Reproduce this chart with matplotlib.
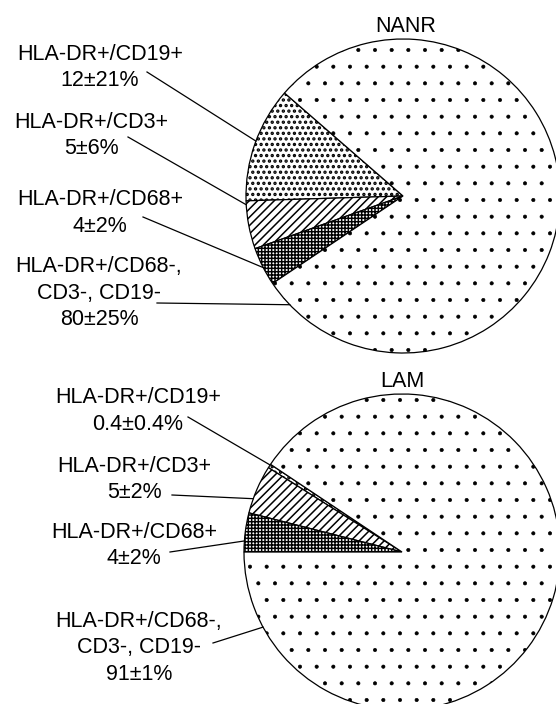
import matplotlib
matplotlib.use('Agg')
import matplotlib.pyplot as plt
import numpy as np
from matplotlib import font_manager

# Datos de los dos paneles (porcentaje de celulas HLA-DR+)
categorias = ['HLA-DR+/CD19+', 'HLA-DR+/CD3+', 'HLA-DR+/CD68+', 'HLA-DR+/CD68-,\nCD3-, CD19-']
nanr_valores = [12, 5, 4, 80]
nanr_textos = ['12±21%', '5±6%', '4±2%', '80±25%']
lam_valores = [0.4, 5, 4, 91]
lam_textos = ['0.4±0.4%', '5±2%', '4±2%', '91±1%']

# Tramas de cada categoria y grosor de la trama
tramas = ['...', '////', '+++++', '.']
grosor_trama = [1.6, 1.1, 1.05, 0.45]

W, H = 556, 704

nombres = {f.name for f in font_manager.fontManager.ttflist}
fuente = 'Liberation Sans Narrow' if 'Liberation Sans Narrow' in nombres else 'Liberation Sans'
tam = 18 if fuente.endswith('Narrow') else 15.5
plt.rcParams['font.family'] = [fuente, 'DejaVu Sans']
plt.rcParams['hatch.linewidth'] = 1.0

fig = plt.figure(figsize=(W / 100, H / 100), dpi=100)
ax = fig.add_axes([0, 0, 1, 1])


def py(y):
    # coordenada y en pixeles (desde arriba) -> datos
    return H - y


def dibujar_pastel(valores, textos, titulo, centro, radio, inicio,
                   pos_titulo, pos_textos, inicio_lineas, fracciones):
    cx, cy = centro[0], py(centro[1])
    wedges, _ = ax.pie(valores, radius=radio, center=(cx, cy), startangle=inicio,
                       counterclock=True, frame=True,
                       wedgeprops=dict(facecolor='white', edgecolor='black', linewidth=0.9))
    for w, t, g in zip(wedges, tramas, grosor_trama):
        w.set_hatch(t)
        if hasattr(w, 'set_hatch_linewidth'):
            w.set_hatch_linewidth(g)

    ax.text(pos_titulo[0], py(pos_titulo[1]), titulo, ha='center', va='baseline', fontsize=tam)

    for i, (cat, txt) in enumerate(zip(categorias, textos)):
        lineas = cat.split('\n') + [txt]
        x, y0 = pos_textos[i]
        for k, lin in enumerate(lineas):
            ax.text(x, py(y0 + 26.5 * k), lin, ha='center', va='baseline', fontsize=tam)
        # linea guia hasta el borde del sector
        w = wedges[i]
        ang = np.radians(w.theta1 + fracciones[i] * (w.theta2 - w.theta1))
        x1 = cx + radio * np.cos(ang)
        y1 = cy + radio * np.sin(ang)
        x0, y0l = inicio_lineas[i]
        ax.plot([x0, x1], [py(y0l), y1], color='black', linewidth=0.9)


dibujar_pastel(nanr_valores, nanr_textos, 'NANR',
               centro=(403, 196), radio=157, inicio=139,
               pos_titulo=(406, 32),
               pos_textos=[(100, 60), (91, 128), (100, 205), (99, 272)],
               inicio_lineas=[(147, 72), (128, 137), (143, 217), (157, 303)],
               fracciones=[0.48, 0.08, 0.53, 0.035])

dibujar_pastel(lam_valores, lam_textos, 'LAM',
               centro=(402, 552), radio=158, inicio=146.3,
               pos_titulo=(402, 387),
               pos_textos=[(138, 403), (134, 472), (134, 538), (139, 627)],
               inicio_lineas=[(188, 417), (172, 495), (170, 552), (213, 643)],
               fracciones=[0.2, 0.7, 0.72, 0.087])

ax.set_xlim(0, W)
ax.set_ylim(0, H)
ax.set_aspect('equal')
ax.axis('off')

fig.savefig('out.png', dpi=100, facecolor='white')
plt.close(fig)
